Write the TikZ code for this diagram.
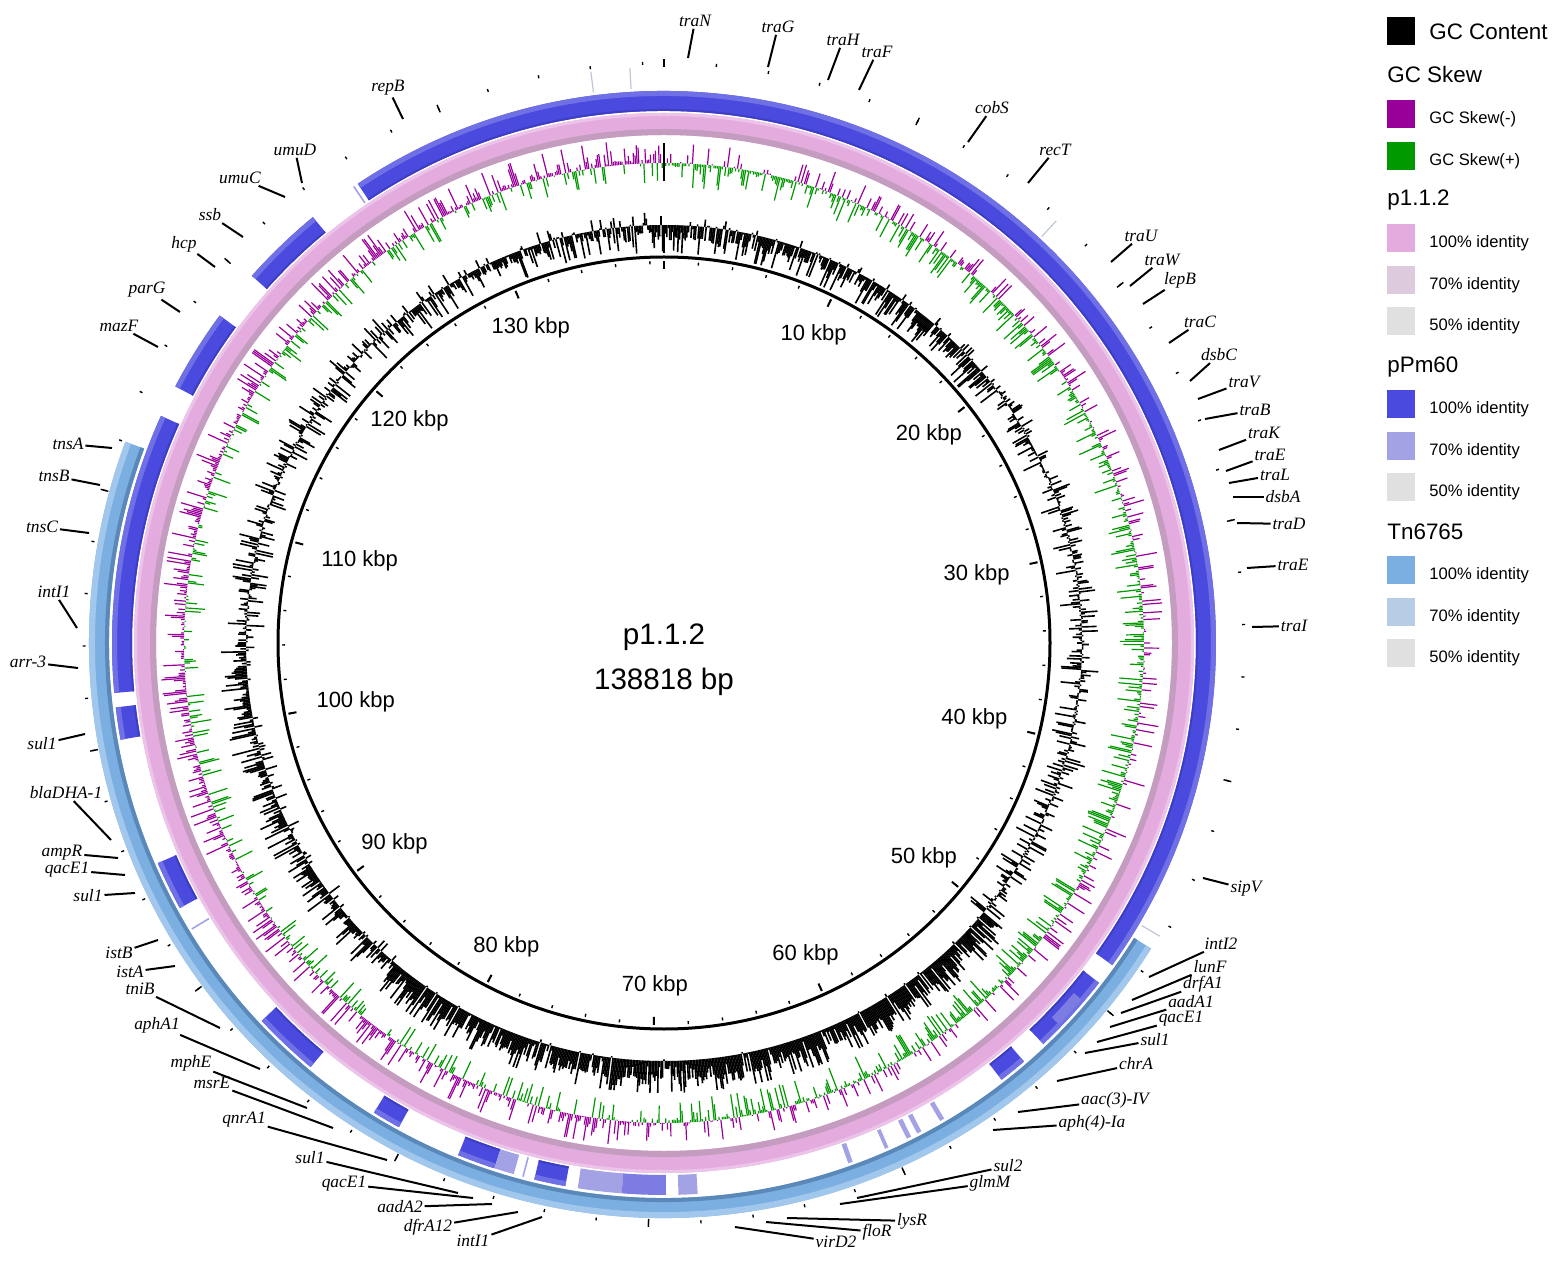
\documentclass[tikz,border=0pt]{standalone}
\usepackage{fontspec}
\setmainfont{Liberation Sans}
\newfontfamily\genefont{Liberation Serif}
\definecolor{skewneg}{HTML}{990099}
\definecolor{skewpos}{HTML}{009900}
\definecolor{pk100}{HTML}{E4ACDE}
\definecolor{pk70}{HTML}{DDCADD}
\definecolor{pkdark}{HTML}{C39CBF}
\definecolor{pklight}{HTML}{EDC4E9}
\definecolor{pm100}{HTML}{4A4ADE}
\definecolor{pmlight}{HTML}{7070E6}
\definecolor{pmdark}{HTML}{3E3EC4}
\definecolor{pm70}{HTML}{A2A2E4}
\definecolor{pm85}{HTML}{7C7CE2}
\definecolor{tn100}{HTML}{7BAFE1}
\definecolor{tn70}{HTML}{B6CDE5}
\definecolor{tndark}{HTML}{5A88B8}
\definecolor{tnlight}{HTML}{A2C7EC}
\definecolor{id50}{HTML}{E0E0E0}

\begin{document}
\begin{tikzpicture}[x=0.5pt, y=-0.5pt,
  gene/.style={font=\genefont\itshape\fontsize{8.7}{10}\selectfont, inner sep=0.8pt},
  lead/.style={line width=1pt},
  kbp/.style={font=\fontsize{11}{13}\selectfont, inner sep=0pt},
  tick/.style={line width=0.7pt},
  gcbar/.style={line width=0.8pt, black},
  skewm/.style={line width=0.6pt, skewneg},
  skewp/.style={line width=0.6pt, skewpos},
  pmbody/.style={line width=10pt},
  tnhit/.style={line width=0.6pt, tn70!80!black!60},
  pmhit/.style={line width=0.8pt, pm70},
  legbox/.style={minimum size=14pt, inner sep=0pt},
  legtxt/.style={anchor=west, inner sep=0pt, text height=5.9pt, text depth=0pt, font=\fontsize{8.3}{10}\selectfont},
  leghead/.style={anchor=west, inner sep=0pt, text height=8pt, text depth=0pt, font=\fontsize{11.2}{13}\selectfont}]
\useasboundingbox (0,0) rectangle (1559,1262);
\fill[white] (0,0) rectangle (1559,1262);

\begin{scope}[shift={(664,643)}]
% GC content
\pgfmathsetseed{3}
\foreach \n in {0,...,1799}{
  \pgfmathsetmacro\ang{-90+0.2*\n}
  \pgfmathsetmacro\bias{(\ang<-40)*(-0.55)+(\ang>=40)*(\ang<130)*0.8+(\ang>=130)*(\ang<180)*0.35+(\ang>=230)*(-0.35)}
  \pgfmathsetmacro\rr{rand}
  \pgfmathsetmacro\glen{max(-28,min(32,22*(\bias+0.95*\rr*abs(\rr))))}
  \pgfmathsetmacro\glen{\glen>=0 ? max(\glen,1.5) : min(\glen,-1.5)}
  \draw[gcbar] (\ang:418) -- (\ang:{418+\glen});
}
% GC skew
\foreach \n in {0,...,1799}{
  \pgfmathsetmacro\ang{-90+0.2*\n}
  \pgfmathsetmacro\bias{(\ang<90)*(-0.12)+(\ang>=90)*0.15}
  \pgfmathsetmacro\rr{rand}
  \pgfmathsetmacro\glen{max(-24,min(24,22*(\bias+1.1*\rr*abs(\rr))))}
  \ifdim\glen pt>0pt
    \draw[skewm] (\ang:480) -- (\ang:{480+max(\glen,1)});
  \else
    \draw[skewp] (\ang:480) -- (\ang:{480+min(\glen,-1)});
  \fi
}
\draw[line width=0.6pt] (-90:462) -- (-90:500);

% scale circle
\draw[line width=1.5pt] (0,0) circle[radius=386];
\foreach \k in {0,2,...,138}{
  \pgfmathsetmacro\ang{-90+2.593324*\k}
  \draw[tick] (\ang:379) -- (\ang:382);
  \draw[tick] (\ang:578.5) -- (\ang:581.5);
}
\foreach \k in {0,10,...,130}{
  \pgfmathsetmacro\ang{-90+2.593324*\k}
  \draw[line width=1pt] (\ang:374) -- (\ang:382);
  \draw[tick] (\ang:576) -- (\ang:584);
}
\foreach \k in {10,20,...,130}{
  \pgfmathsetmacro\ang{-90+2.593324*\k}
  \pgfmathsetmacro\anc{mod(360-\ang,360)}
  \node[kbp, anchor=\anc] (kb\k) at (\ang:354) {\k{} kbp};
}
\node[font=\fontsize{14.8}{17}\selectfont] (pname) at (0,-6) {p1.1.2};
\node[font=\fontsize{14.8}{17}\selectfont] (plen) at (0,39) {138818 bp};

% p1.1.2 ring
\draw[line width=11pt, pk100] (0,0) circle[radius=519];
\draw[line width=3pt, pkdark] (0,0) circle[radius=511];
\draw[line width=1.5pt, pklight] (0,0) circle[radius=528.5];

% pPm60 ring
\foreach \a/\b in {236.3/395.7, 221.7/230.5, 207.7/216.4, 174.8/204.3, 169.9/173.3,
  151.3/156.5, 129.8/136.8, 118.7/121.7, 107.9/111.9, 100.3/103.6, 49.3/52.3, 38.0/46.6}{
  \draw[pmbody, pm100] (\a:542) arc[start angle=\a, end angle=\b, radius=542];
  \draw[line width=2.5pt, pmlight] (\a:549.5) arc[start angle=\a, end angle=\b, radius=549.5];
  \draw[line width=1pt, pmdark] (\a:533) arc[start angle=\a, end angle=\b, radius=533];
}
\foreach \a/\b in {105.8/107.9, 94.4/99.0, 86.5/88.5, 70.0/70.5, 66.0/66.4, 63.4/63.9, 62.2/62.7, 59.5/60.0}{
  \draw[pmbody, pm70] (\a:542) arc[start angle=\a, end angle=\b, radius=542];
}
\draw[pmbody, pm85] (89.8:542) arc[start angle=89.8, end angle=94.4, radius=542];
\draw[line width=5pt, pm85] (40.5:544) arc[start angle=40.5, end angle=44, radius=544];
\foreach \ang in {235.8,148.8,104.8}
  \draw[pmhit] (\ang:532) -- (\ang:552);

% Tn6765 ring
\draw[pmbody, tn100] (32.1:565) arc[start angle=32.1, end angle=200.5, radius=565];
\draw[line width=2pt, tndark] (32.1:557) arc[start angle=32.1, end angle=200.5, radius=557];
\draw[line width=3pt, tnlight] (32.1:572) arc[start angle=32.1, end angle=200.5, radius=572];
\foreach \ang in {262.7,266.6,312.9,30.6}
  \draw[tnhit] (\ang:555) -- (\ang:576);
\end{scope}

% gene labels
\foreach \i/\x/\y/\ix/\iy/\g in {1/695/21/688/58/traN, 2/778/27/768/67/traG,
  3/843/40/828/80/traH, 4/877/52/859/90/traF, 5/992/108/968/142/cobS,
  6/1055/150/1028/183/recT, 7/1141/236/1111/262/traU, 8/1162/260/1130/286/traW,
  9/1180/280/1143/304/lepB, 10/1200/322/1169/343/traC, 11/1219/355/1190/381/dsbC,
  12/1244/382/1198/399/traV, 13/1255/410/1205/419/traB, 14/1264/433/1219/450/traK,
  15/1270/455/1226/471/traE, 16/1275/475/1229/483/traL, 17/1283/497/1233/497/dsbA,
  18/1289/524/1237/523/traD, 19/1293/565/1247/568/traE, 20/1294/626/1252/627/traI,
  21/1246/889/1203/878/sipV, 22/1221/944/1149/977/intI2, 23/1210/967/1132/1000/lunF,
  24/1203/984/1121/1013/drfA1, 25/1191/1002/1110/1027/aadA1, 26/1181/1019/1097/1042/qacE1,
  27/1155/1040/1085/1053/sul1, 28/1136/1064/1057/1081/chrA, 29/1115/1100/1018/1112/aac(3)-IV,
  30/1092/1123/993/1130/aph(4)-Ia, 31/1008/1166/857/1198/sul2, 32/990/1183/840/1204/glmM,
  33/912/1221/787/1218/lysR, 34/877/1232/766/1222/floR, 35/836/1242/735/1227/virD2,
  36/473/1241/542/1217/intI1, 37/428/1227/518/1212/dfrA12, 38/400/1207/492/1204/aadA2,
  39/344/1184/473/1198/qacE1, 40/310/1158/458/1193/sul1, 41/244/1120/387/1160/qnrA1,
  42/212/1083/333/1128/msrE, 43/191/1063/307/1108/mphE, 44/157/1025/260/1069/aphA1,
  45/140/989/220/1028/tniB, 46/130/972/175/966/istA, 47/119/953/158/940/istB,
  48/88/896/135/893/sul1, 49/67/870/125/875/qacE1, 50/62/853/118/858/ampR,
  51/66/793/111/840/blaDHA-1, 52/42/744/85/734/sul1, 53/28/662/78/668/arr-3,
  54/54/592/77/628/intI1, 55/42/527/89/533/tnsC, 56/54/476/100/485/tnsB,
  57/68/444/112/448/tnsA, 58/119/326/158/347/mazF, 59/147/290/180/312/parG,
  60/184/244/215/267/hcp, 61/210/215/243/237/ssb, 62/240/178/285/197/umuC,
  63/295/150/302/183/umuD, 64/388/88/403/119/repB}{
  \coordinate (c\i) at (\ix,\iy);
  \node[gene] (g\i) at (\x,\y) {\g};
  \draw[lead] (c\i) -- (g\i);
}

% legend
\node[legbox, fill=black] (k0) at (1401,31) {};
\node[leghead] (t0) at (1429,32) {GC Content};
\node[leghead] (h1) at (1387,75) {GC Skew};
\node[leghead] (h2) at (1387,198) {p1.1.2};
\node[leghead] (h3) at (1387,365) {pPm60};
\node[leghead] (h4) at (1387,531) {Tn6765};
\foreach \n/\y/\c/\lbl in {1/114/skewneg/GC Skew(-), 2/156/skewpos/GC Skew(+),
  3/238/pk100/100\% identity, 4/280/pk70/70\% identity, 5/321/id50/50\% identity,
  6/404/pm100/100\% identity, 7/446/pm70/70\% identity, 8/487/id50/50\% identity,
  9/570/tn100/100\% identity, 10/612/tn70/70\% identity, 11/653/id50/50\% identity}{
  \node[legbox, fill=\c] (k\n) at (1401,\y) {};
  \node[legtxt] (t\n) at (1429,\y+4) {\lbl};
}
\end{tikzpicture}
\end{document}
